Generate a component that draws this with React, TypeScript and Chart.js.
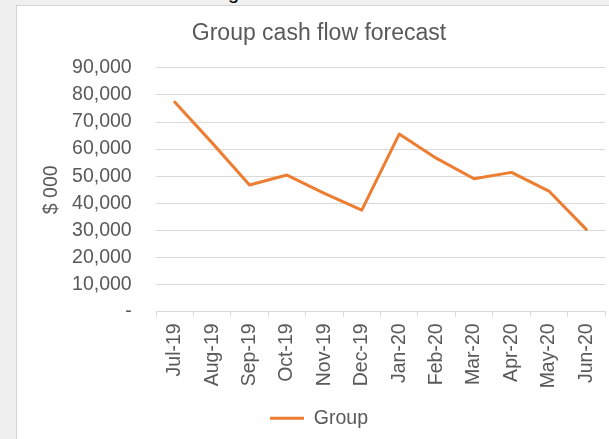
import React, { useEffect, useRef } from "react";
import { Chart, registerables } from "chart.js";

Chart.register(...registerables);

const categories = [
  "Jul-19", "Aug-19", "Sep-19", "Oct-19", "Nov-19", "Dec-19",
  "Jan-20", "Feb-20", "Mar-20", "Apr-20", "May-20", "Jun-20",
];
const groupValues = [77350, 62300, 46740, 50430, 43670, 37510, 65550, 56580, 49060, 51420, 44520, 30390];
const seriesName = "Group";
const chartTitle = "Group cash flow forecast";
const yAxisTitle = "$ 000";
const yMin = 0;
const yMax = 90000;
const yStep = 10000;

const FONT = "'Liberation Sans', Arial, sans-serif";
const TEXT = "#595959";
const GRID = "#d9d9d9";

export default function App() {
  const canvasRef = useRef<HTMLCanvasElement | null>(null);

  useEffect(() => {
    const canvas = canvasRef.current;
    if (!canvas) return;
    const chart = new Chart(canvas, {
      type: "line",
      data: {
        labels: categories,
        datasets: [
          {
            label: seriesName,
            data: groupValues,
            borderColor: "#ED7D31",
            backgroundColor: "#ED7D31",
            borderWidth: 3,
            pointRadius: 0,
            tension: 0,
            borderJoinStyle: "round",
            borderCapStyle: "round",
            fill: false,
          },
        ],
      },
      options: {
        animation: false,
        responsive: false,
        devicePixelRatio: 1,
        events: [],
        layout: { padding: { left: 16, right: 4, top: 0, bottom: 1 } },
        plugins: {
          title: {
            display: true,
            text: chartTitle,
            color: TEXT,
            font: { family: FONT, size: 23, weight: "normal" },
            padding: { top: 14, bottom: 20.2 },
          },
          legend: {
            position: "bottom",
            labels: {
              usePointStyle: true,
              pointStyle: "line",
              pointStyleWidth: 34,
              color: TEXT,
              font: { family: FONT, size: 19.5 },
              padding: 10,
            },
          },
          tooltip: { enabled: false },
        },
        scales: {
          x: {
            type: "category",
            offset: true,
            grid: {
              offset: true,
              drawOnChartArea: false,
              drawTicks: true,
              tickLength: 5,
              color: GRID,
            },
            border: { display: true, color: GRID, width: 1 },
            ticks: {
              autoSkip: false,
              minRotation: 90,
              maxRotation: 90,
              padding: 6.6,
              color: TEXT,
              font: { family: FONT, size: 19.5 },
            },
            afterFit: (s: any) => {
              s.height = 86.75;
              s.paddingLeft = 0;
              s.paddingRight = 0;
            },
          },
          y: {
            min: yMin,
            max: yMax,
            grid: { color: GRID, drawTicks: false },
            border: { display: false },
            ticks: {
              stepSize: yStep,
              padding: 24.3,
              color: TEXT,
              font: { family: FONT, size: 19.5 },
              callback: (v: any) => (Number(v) === 0 ? "-" : Number(v).toLocaleString("en-US")),
            },
            title: {
              display: true,
              text: yAxisTitle,
              color: TEXT,
              font: { family: FONT, size: 19.5 },
              padding: { top: 7, bottom: 0 },
            },
            afterFit: (s: any) => {
              s.width = 123;
            },
          },
        },
      },
    } as any);
    return () => chart.destroy();
  }, []);

  return (
    <div
      style={{
        position: "fixed",
        left: 0,
        top: 0,
        width: 609,
        height: 439,
        background: "#f0f0f0",
        overflow: "hidden",
      }}
    >
      <div
        style={{
          position: "absolute",
          left: 228,
          top: -18.5,
          fontFamily: FONT,
          fontSize: 20,
          lineHeight: "20px",
          color: "#000",
        }}
      >
        g
      </div>
      <div
        style={{
          position: "absolute",
          left: 16,
          top: 5,
          width: 593,
          height: 434,
          background: "#fff",
          borderLeft: "1px solid #d4d4d4",
          borderTop: "1px solid #d4d4d4",
          boxSizing: "border-box",
        }}
      >
        <canvas ref={canvasRef} width={592} height={433} style={{ display: "block", width: 592, height: 433 }} />
      </div>
    </div>
  );
}
